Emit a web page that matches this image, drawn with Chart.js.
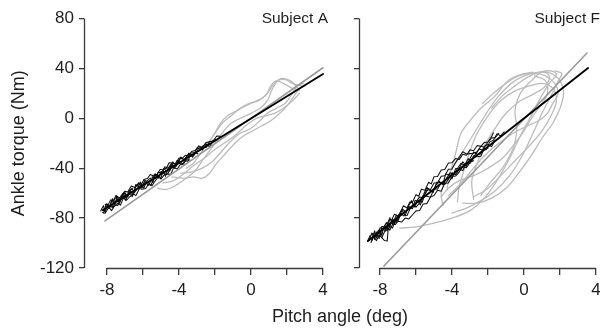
<!DOCTYPE html>
<html><head><meta charset="utf-8">
<script src="https://cdn.jsdelivr.net/npm/chart.js@4.4.1/dist/chart.umd.min.js"></script>
<style>
body{margin:0;background:#fff}
#wrap{position:relative;width:600px;height:331px;overflow:hidden;background:#fff}
canvas{position:absolute;top:0}
#cA{left:0}
#cF{left:345px}
</style>
</head><body>
<div id="wrap"><canvas id="cA" width="600" height="331"></canvas><canvas id="cF" width="255" height="331"></canvas></div>
<script>
// ---------- tick labels ----------
const xTicks = [-8, -6, -4, -2, 0, 2, 4];
const xLabeled = [-8, -4, 0, 4];
const yTicks = [-120, -80, -40, 0, 40, 80];

// ---------- Subject A ----------
const A_fitBlack = [[-8.22, -73.5], [4.0, 35.5]];
const A_fitGray = [[-8.11, -82.3], [4.0, 40.5]];
const A_black1 = [[-8.3,-73],[-8.15,-74.5],[-8.05,-68.5],[-7.9,-69.5],[-7.7,-71.5],[-7.6,-65.5],[-7.45,-62.5],[-7.25,-65.5],[-7.1,-62],[-6.95,-66],[-6.8,-58.5],[-6.6,-56],[-6.5,-60],[-6.3,-56],[-6.15,-51],[-5.95,-56],[-5.8,-50.5],[-5.6,-48],[-5.45,-51.5],[-5.3,-44.5],[-5.1,-46.5],[-4.9,-42],[-4.75,-46.5],[-4.6,-40],[-4.4,-36.5],[-4.25,-40],[-4.05,-36],[-3.9,-31],[-3.7,-34],[-3.5,-34.5],[-3.35,-28],[-3.15,-27.5],[-2.95,-28.5]];
const A_black2 = [[-8.2,-76],[-8,-70.2],[-7.85,-70.9],[-7.75,-66],[-7.55,-69.2],[-7.4,-69.9],[-7.2,-63.1],[-7.05,-59.8],[-6.9,-62.5],[-6.7,-57.7],[-6.55,-61.4],[-6.4,-53],[-6.25,-54.7],[-6.05,-55.9],[-5.9,-49.6],[-5.7,-51.8],[-5.55,-53.5],[-5.35,-45.7],[-5.2,-45.4],[-5,-47.7],[-4.85,-40.3],[-4.7,-42],[-4.5,-42.2],[-4.35,-34.9],[-4.15,-38.1],[-4,-33.8],[-3.8,-37],[-3.6,-31.3],[-3.45,-27.9],[-3.25,-31.2],[-3.05,-27.4],[-2.85,-22.6],[-2.7,-25.3],[-2.5,-20.5],[-2.3,-22.8],[-2.1,-18]];
const A_black3 = [[-8.1,-69.1],[-7.95,-69.8],[-7.8,-65.4],[-7.65,-66.1],[-7.5,-61.8],[-7.3,-64],[-7.15,-60.7],[-7,-58.4],[-6.85,-59],[-6.65,-54.3],[-6.45,-55.5],[-6.3,-53.2],[-6.1,-53.4],[-5.95,-49.1],[-5.75,-48.3],[-5.6,-45],[-5.4,-46.2],[-5.25,-45.9],[-5.05,-41.1],[-4.9,-40.8],[-4.7,-40],[-4.55,-35.7],[-4.35,-35.9],[-4.2,-36.6],[-4,-31.8],[-3.85,-32.5],[-3.65,-29.7],[-3.5,-30.4],[-3.3,-26.6],[-3.1,-25.8],[-2.9,-22.1],[-2.7,-23.3],[-2.5,-19.5],[-2.3,-18.8],[-2.1,-18],[-1.9,-14.2],[-1.7,-14.4]];
const A_black4 = [[-8.25,-75.4],[-8.1,-76.1],[-7.9,-71.3],[-7.75,-74],[-7.6,-70.7],[-7.4,-67.9],[-7.25,-69.6],[-7.1,-64.2],[-6.9,-65.5],[-6.75,-63.1],[-6.55,-60.4],[-6.4,-62],[-6.2,-56.3],[-6.05,-56.9],[-5.85,-56.2],[-5.7,-52.8],[-5.5,-54.1],[-5.35,-50.7],[-5.15,-47],[-5,-48.7],[-4.8,-44.9],[-4.65,-44.6],[-4.45,-44.8],[-4.3,-39.5],[-4.1,-40.7],[-3.95,-37.4],[-3.75,-36.6],[-3.6,-33.3],[-3.4,-33.5]];
const A_black5 = [[-7.8,-69.4],[-7.65,-71.1],[-7.45,-64.3],[-7.3,-66],[-7.1,-60.2],[-6.95,-63.9],[-6.75,-59.1],[-6.6,-62.8],[-6.4,-55],[-6.25,-51.7],[-6.05,-54.9],[-5.9,-50.6],[-5.7,-53.8],[-5.5,-48.1],[-5.35,-44.7],[-5.15,-48],[-5,-42.7],[-4.8,-43.9],[-4.6,-44.1],[-4.45,-37.8],[-4.25,-38],[-4.1,-33.7],[-3.9,-36.9]];
const A_black6 = [[-8.35,-74.3],[-8.2,-70],[-8.1,-75.1],[-7.95,-68.8],[-7.85,-71.9],[-7.7,-64.5],[-7.55,-68.2],[-7.45,-64.3],[-7.3,-68],[-7.15,-62.7],[-7,-59.4],[-6.85,-63],[-6.7,-58.7]];
const A_black7 = [[-5.5,-47.1],[-5.3,-48.3],[-5.15,-43],[-4.95,-44.2],[-4.8,-38.9],[-4.6,-40.1],[-4.4,-36.3],[-4.25,-39],[-4.05,-34.2],[-3.9,-31.9],[-3.7,-33.1],[-3.55,-29.8],[-3.35,-29],[-3.2,-29.7],[-3,-23.9],[-2.85,-24.6],[-2.65,-21.9],[-2.5,-23.5],[-2.3,-18.8],[-2.15,-18.4],[-1.95,-16.7]];
const A_gray1 = [[-5.2,-56],[-4.7,-57],[-4.2,-54],[-3.6,-48],[-3.1,-42],[-2.7,-34],[-2.3,-26],[-1.9,-18],[-1.5,-10],[-1.1,-4],[-0.6,0],[0,4],[0.5,8],[0.9,14],[1.2,24],[1.5,30],[1.9,31],[2.3,28],[2.8,26]];
const A_gray2 = [[-4.4,-47],[-3.8,-48],[-3.2,-47],[-2.7,-48],[-2.3,-44],[-1.9,-36],[-1.4,-28],[-0.9,-20],[-0.4,-14],[0.1,-10],[0.6,-6],[1.1,-2],[1.6,4],[2,10],[2.4,18],[2.7,24],[3,26]];
const A_gray3 = [[-3.6,-40],[-3.2,-36],[-2.8,-28],[-2.4,-20],[-2,-12],[-1.6,-4],[-1.1,2],[-0.6,8],[-0.1,12],[0.4,14],[0.9,20],[1.3,28],[1.7,32],[2.2,30],[2.6,24]];
const A_gray4 = [[-3.9,-44],[-3.3,-43],[-2.7,-40],[-2.1,-34],[-1.6,-26],[-1.1,-18],[-0.6,-12],[0,-8],[0.5,-2],[0.9,4],[1.4,8],[1.9,12],[2.3,20],[2.6,26],[2.9,28]];
const A_gray5 = [[-2.9,-26],[-2.5,-22],[-2.1,-14],[-1.7,-4],[-1.3,2],[-0.8,6],[-0.3,10],[0.3,14],[0.8,18],[1.1,26],[1.4,30],[1.8,28],[2.3,24],[2.7,22]];
const A_gray6 = [[-4.9,-52],[-4.3,-50],[-3.7,-44],[-3.2,-38],[-2.6,-32],[-2.1,-26],[-1.5,-20],[-0.9,-14],[-0.3,-6],[0.3,0],[0.8,2],[1.3,4],[1.8,8],[2.3,14],[2.7,20]];

// ---------- Subject F ----------
const F_fitBlack = [[-8.67, -98.4], [3.56, 40.3]];
const F_fitGray = [[-7.78, -118.4], [3.5, 52.3]];
const F_black1 = [[-8.6,-97.6],[-8.45,-91.9],[-8.3,-97.2],[-8.2,-91.1],[-8.05,-96.4],[-7.9,-86.7],[-7.75,-87],[-7.6,-90.3],[-7.45,-79.6],[-7.3,-84.9],[-7.1,-77.6],[-6.95,-79.9],[-6.8,-73.2],[-6.6,-78],[-6.45,-71.3],[-6.25,-66],[-6.1,-71.3],[-5.9,-66.1],[-5.75,-69.4],[-5.55,-60.1],[-5.4,-55.4],[-5.2,-58.2],[-5.05,-59.5],[-4.85,-51.2],[-4.7,-51.5],[-4.5,-52.3],[-4.35,-44.6],[-4.15,-45.3],[-4,-48.6],[-3.8,-40.3],[-3.6,-40.1],[-3.4,-34.8],[-3.2,-38.6],[-3,-32.3],[-2.8,-27],[-2.6,-28.8],[-2.4,-28.5],[-2.2,-22.3],[-2,-21],[-1.8,-22.7],[-1.6,-17.5]];
const F_black2 = [[-8.3,-92.2],[-8.15,-94.5],[-8,-87.8],[-7.85,-88.1],[-7.7,-90.4],[-7.5,-81.2],[-7.35,-81.5],[-7.2,-76.8],[-7,-78.5],[-6.85,-74.8],[-6.7,-70.1],[-6.5,-71.9],[-6.35,-67.2],[-6.2,-67.5],[-6,-61.2],[-5.85,-62.5],[-5.7,-56.8],[-5.5,-57.6],[-5.3,-51.3],[-5.15,-52.6],[-5,-46.9],[-4.8,-46.6],[-4.6,-41.4],[-4.4,-41.1],[-4.2,-35.9],[-4,-35.6],[-3.8,-32.3],[-3.6,-33.1],[-3.4,-28.8],[-3.2,-29.6],[-3,-25.3],[-2.8,-26],[-2.6,-21.8],[-2.4,-22.5],[-2.2,-19.3],[-2,-19],[-1.8,-15.7],[-1.6,-15.5],[-1.4,-12.2]];
const F_black3 = [[-8.5,-99.5],[-8.35,-94.8],[-8.2,-98.1],[-8.05,-93.4],[-7.9,-95.7],[-7.75,-91],[-7.6,-87.3],[-7.45,-89.6],[-7.3,-84.9],[-7.15,-85.2],[-7,-82.5],[-6.8,-83.2],[-6.6,-80],[-6.4,-80.7],[-6.2,-77.5],[-6,-74.2],[-5.8,-73.9],[-5.6,-68.7],[-5.4,-68.4],[-5.2,-63.2],[-5,-61.9],[-4.8,-57.6],[-4.6,-58.4],[-4.4,-52.1],[-4.2,-51.9],[-4,-46.6],[-3.8,-46.3],[-3.6,-43.1],[-3.4,-38.8],[-3.2,-39.6],[-3,-35.3],[-2.8,-34]];
const F_black4 = [[-8.4,-92.3],[-8.25,-94.6],[-8.1,-89.9],[-7.95,-94.2],[-7.8,-87.5],[-7.6,-83.3],[-7.45,-86.6],[-7.3,-80.9],[-7.1,-83.6],[-6.9,-77.4],[-6.75,-72.7],[-6.55,-75.4],[-6.4,-70.7],[-6.2,-72.5],[-6.05,-65.8],[-5.85,-66.5],[-5.65,-67.2],[-5.5,-60.6],[-5.3,-56.3],[-5.1,-59],[-4.9,-53.8],[-4.7,-50.5],[-4.5,-53.3],[-4.3,-48],[-4.1,-43.7],[-3.9,-45.5],[-3.7,-40.2],[-3.5,-36],[-3.3,-37.7],[-3.1,-32.4],[-2.9,-34.2],[-2.7,-28.9],[-2.5,-24.7],[-2.3,-25.4],[-2.1,-25.1],[-1.9,-18.9],[-1.7,-17.6],[-1.5,-12.4],[-1.3,-14.1],[-1.1,-10.8]];
const F_black5 = [[-7.9,-95.7],[-7.75,-98],[-7.6,-98.3],[-7.55,-89.7],[-7.45,-86.6],[-7.3,-87.9],[-7.15,-81.2],[-7,-82.5],[-6.85,-75.8],[-6.7,-78.1],[-6.5,-77.9],[-6.35,-73.2],[-6.15,-68.9],[-6,-71.2],[-5.8,-68],[-5.6,-61.7],[-5.4,-62.4],[-5.2,-63.2],[-5,-56.9],[-4.8,-56.6],[-4.6,-51.4],[-4.4,-53.1],[-4.2,-48.9],[-4,-43.6],[-3.8,-45.3],[-3.6,-41.1],[-3.4,-41.8],[-3.2,-35.6],[-3,-36.3],[-2.8,-30],[-2.6,-30.8],[-2.4,-30.5],[-2.2,-24.3],[-2,-24]];
const F_black6 = [[-8.7,-98.7],[-8.55,-94],[-8.45,-97.9],[-8.3,-90.2],[-8.2,-96.1],[-8.05,-89.4],[-7.9,-93.7],[-7.8,-87.5],[-7.65,-83.8],[-7.5,-87.2],[-7.35,-81.5],[-7.2,-84.8],[-7.05,-79.1],[-6.9,-76.4]];
const F_black7 = [[-6,-67.2],[-5.8,-63],[-5.6,-63.7],[-5.4,-57.4],[-5.2,-57.2],[-5,-51.9],[-4.8,-51.6],[-4.6,-46.4],[-4.4,-46.1],[-4.2,-40.9],[-4,-40.6],[-3.8,-35.3],[-3.6,-31.1],[-3.4,-26.8],[-3.2,-28.6],[-3,-28.3],[-2.8,-28],[-2.6,-26.8],[-2.4,-22.5],[-2.2,-23.3],[-2,-19],[-1.8,-14.7],[-1.7,-11.6]];
const F_gray1 = [[-6.9,-88],[-6,-87],[-5,-84],[-4,-80],[-3,-74],[-2.2,-64],[-1.5,-50],[-0.8,-32],[-0.2,-14],[0.4,2],[0.9,16],[1.4,28],[1.8,35],[1.5,38],[0.9,37],[0.2,33],[-0.5,26],[-1.2,18],[-1.8,8]];
const F_gray2 = [[-4.5,-70],[-4.6,-60],[-4.3,-48],[-3.8,-36],[-3.2,-22],[-2.6,-8],[-2,6],[-1.4,18],[-0.7,28],[0,34],[0.8,37],[1.5,36],[2,30],[2.2,20],[2,8],[1.6,-4],[1,-16],[0.4,-30],[-0.3,-44],[-1,-56],[-1.8,-64],[-2.6,-68],[-3.4,-68]];
const F_gray3 = [[-3.7,-67],[-3.6,-55],[-3.3,-40],[-3,-26],[-2.6,-12],[-2,2],[-1.3,14],[-0.5,22],[0.3,26],[1,28],[1.6,24],[1.8,14],[1.5,2],[1,-10],[0.3,-22],[-0.5,-34],[-1.3,-46],[-2,-56],[-2.8,-63]];
const F_gray4 = [[-2.8,-65],[-2.9,-50],[-2.6,-36],[-2.2,-22],[-1.6,-8],[-1,4],[-0.2,14],[0.6,20],[1.2,26],[1.4,34],[1,37],[0.4,30],[-0.2,20],[-0.5,6],[-0.4,-8],[-0.6,-24],[-1.2,-40],[-1.9,-52],[-2.4,-62]];
const F_gray5 = [[-4.2,-62],[-3.5,-52],[-2.8,-40],[-2.2,-30],[-1.4,-20],[-0.6,-12],[0.2,-6],[0.8,-2],[1.3,4],[1.6,12],[1.9,20],[1.7,28],[1.2,34],[0.5,36],[-0.3,34],[-1,28],[-1.7,20],[-2.3,12]];
const F_gray6 = [[-4.6,-63],[-4.2,-56],[-3.6,-50],[-2.8,-46],[-2,-40],[-1.2,-32],[-0.6,-22],[0,-10],[0.5,2],[1,12],[1.3,20],[1.2,30],[0.6,34]];
const F_gray7 = [[-4,-76],[-3.2,-72],[-2.4,-66],[-1.6,-58],[-0.8,-46],[-0.1,-30],[0.5,-12],[1,4],[1.5,18],[1.9,30],[2.1,36],[1.7,38]];
const F_gray8 = [[-4.3,-58],[-4.1,-44],[-3.8,-28],[-3.5,-12],[-3,-2],[-2.4,8],[-1.6,18],[-0.9,30],[-0.2,35],[0.5,37]];

// ---------- styling ----------
const FONT = '"Liberation Sans", Arial, Helvetica, sans-serif';
const TEXT = '#1e1e1e';
const AXIS = '#3a3a3a';
const C_BLACK_TRACE = '#111111';
const C_GRAY_TRACE = '#bcbcbc';
const C_FIT_BLACK = '#000000';
const C_FIT_GRAY = '#9a9a9a';
Chart.defaults.font.family = FONT;
Chart.defaults.color = TEXT;

const pts = a => a.map(p => ({x: p[0], y: p[1]}));
function ds(arr, color, width, order, tension) {
  return {data: pts(arr), borderColor: color, borderWidth: width, showLine: true,
          pointRadius: 0, pointHoverRadius: 0, tension: tension || 0, fill: false, order: order,
          borderJoinStyle: 'round', borderCapStyle: 'round'};
}

const rAxes = {
  id: 'rAxes',
  afterDraw(chart, args, o) {
    const {ctx, chartArea} = chart;
    const x = chart.scales.x, y = chart.scales.y;
    ctx.save();
    ctx.strokeStyle = AXIS; ctx.lineWidth = 1.3;
    ctx.beginPath();
    ctx.moveTo(x.getPixelForValue(xTicks[0]), Math.round(chartArea.bottom) + 0.5);
    ctx.lineTo(x.getPixelForValue(xTicks[xTicks.length - 1]), Math.round(chartArea.bottom) + 0.5);
    ctx.moveTo(Math.round(chartArea.left) + 0.5, y.getPixelForValue(yTicks[yTicks.length - 1]));
    ctx.lineTo(Math.round(chartArea.left) + 0.5, y.getPixelForValue(yTicks[0]));
    ctx.stroke();
    ctx.fillStyle = TEXT;
    ctx.font = '15.5px ' + FONT;
    ctx.textAlign = 'right'; ctx.textBaseline = 'alphabetic';
    ctx.fillText(o.label, x.getPixelForValue(4) + o.labelDx, 23);
    if (o.xTitle) {
      ctx.font = '18px ' + FONT;
      ctx.textAlign = 'center';
      ctx.fillText(o.xTitle, 340, 322);
    }
    ctx.restore();
  }
};

function makeChart(id, sets, opt) {
  return new Chart(document.getElementById(id), {
    type: 'scatter',
    data: {datasets: sets},
    plugins: [rAxes],
    options: {
      responsive: false, animation: false, events: [],
      layout: {padding: {top: 18.5, right: opt.padRight, bottom: 0, left: 0}},
      plugins: {legend: {display: false}, tooltip: {enabled: false},
                rAxes: {label: opt.label, labelDx: opt.labelDx, xTitle: opt.xTitle}},
      scales: {
        x: {type: 'linear', min: opt.xmin, max: opt.xmax,
            afterBuildTicks: s => { s.ticks = xTicks.map(v => ({value: v})); },
            afterFit: s => { s.height = 63; s.paddingLeft = 0; s.paddingRight = 0; },
            border: {display: false},
            grid: {drawOnChartArea: false, drawTicks: true, tickLength: 7, color: AXIS, lineWidth: 1.3},
            ticks: {autoSkip: false, maxRotation: 0, padding: 5, font: {size: 17}, color: TEXT,
                    callback: v => xLabeled.includes(v) ? String(v) : ''}},
        y: {type: 'linear', min: -120, max: 80,
            afterBuildTicks: s => { s.ticks = yTicks.map(v => ({value: v})); },
            afterFit: s => { s.width = opt.yWidth; s.paddingTop = 0; s.paddingBottom = 0; },
            border: {display: false},
            grid: {drawOnChartArea: false, drawTicks: true, tickLength: 5, color: AXIS, lineWidth: 1.3},
            ticks: {padding: 5, font: {size: 17}, color: TEXT,
                    callback: v => opt.yLabels ? String(v) : ''},
            title: {display: !!opt.yTitle, text: opt.yTitle || '', font: {size: 18}, color: TEXT,
                    padding: {top: 8, bottom: 0}}}
      }
    }
  });
}

const G = (a) => ds(a, C_GRAY_TRACE, 1.3, 3, 0.35);
const B = (a) => ds(a, C_BLACK_TRACE, 1.05, 2, 0);
const setsA = [
  G(A_gray1), G(A_gray2), G(A_gray3), G(A_gray4), G(A_gray5), G(A_gray6),
  B(A_black1), B(A_black2), B(A_black3), B(A_black4), B(A_black5), B(A_black6), B(A_black7),
  ds(A_fitGray, C_FIT_GRAY, 1.6, 1), ds(A_fitBlack, C_FIT_BLACK, 1.9, 0)
];
const setsF = [
  G(F_gray1), G(F_gray2), G(F_gray3), G(F_gray4), G(F_gray5), G(F_gray6), G(F_gray7), G(F_gray8),
  B(F_black1), B(F_black2), B(F_black3), B(F_black4), B(F_black5), B(F_black6), B(F_black7),
  ds(F_fitGray, C_FIT_GRAY, 1.6, 1), ds(F_fitBlack, C_FIT_BLACK, 1.9, 0)
];

makeChart('cA', setsA, {xmin: -8 - 23/18, xmax: 4 + 22/18, padRight: 255, yWidth: 84, yLabels: true,
                        yTitle: 'Ankle torque (Nm)', label: 'Subject A', labelDx: 5, xTitle: 'Pitch angle (deg)'});
makeChart('cF', setsF, {xmin: -8 - 21/18, xmax: 4 + 4/18, padRight: 0, yWidth: 14, yLabels: false,
                        yTitle: '', label: 'Subject F', labelDx: 4, xTitle: ''});
</script>
</body></html>
